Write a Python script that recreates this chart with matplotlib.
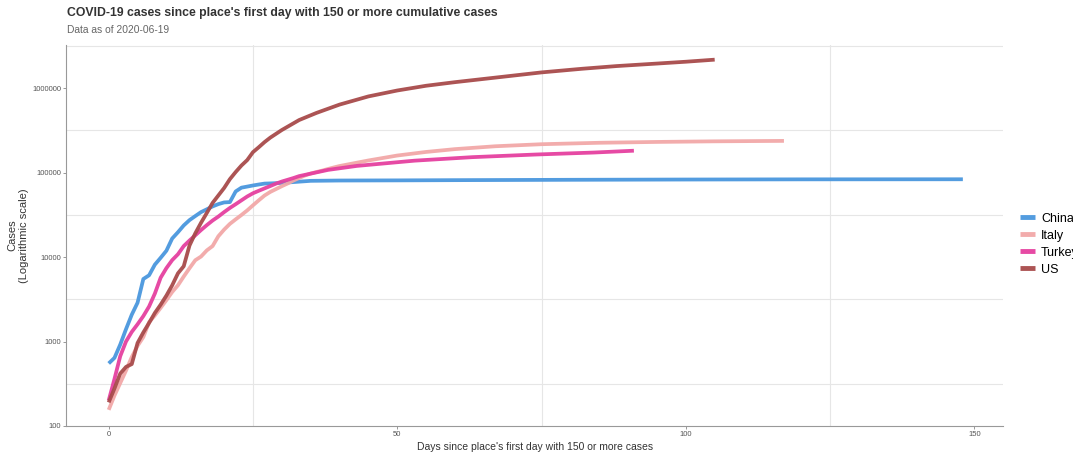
import matplotlib
matplotlib.use("Agg")
import matplotlib.pyplot as plt
import matplotlib.ticker as mticker

plt.rcParams['font.family'] = ['Liberation Sans', 'DejaVu Sans']

# values (days since first day with 150+ cases, cumulative cases)
china_days = list(range(0, 29)) + [30, 35, 40, 50, 60, 80, 100, 120, 148]
china_cases = [550, 640, 920, 1400, 2080, 2880, 5500, 6090, 8140, 9800,
               11900, 16600, 19700, 23700, 27400, 30600, 34100, 36800, 39800, 42400,
               44400, 44800, 59900, 66400, 68400, 70500, 72400, 74200, 74600,
               75600, 80000, 80700, 81000, 81500, 82300, 82900, 83300, 83500]

italy_days = list(range(0, 41)) + [45, 50, 55, 60, 67, 75, 85, 95, 105, 117]
italy_cases = [155, 229, 322, 453, 655, 888, 1128, 1694, 2036, 2502,
               3089, 3858, 4636, 5883, 7375, 9172, 10149, 12000, 13500, 17660,
               21157, 24747, 27980, 31506, 35713, 41035, 47021, 53578, 59138, 63927,
               69176, 74386, 80589, 86498, 92472, 97689, 101739, 105792, 110574, 115242,
               119827, 139422, 159516, 175925, 189973, 205463, 217185, 225886, 231139,
               234998, 237800]

turkey_days = list(range(0, 34)) + [38, 43, 53, 63, 74, 84, 91]
turkey_cases = [200, 360, 670, 1000, 1300, 1600, 2000, 2600, 3700, 5700,
                7400, 9200, 10800, 13500, 15700, 18100, 20900, 23900, 27100, 30200,
                34100, 38200, 42300, 47000, 52200, 57000, 61000, 65100, 69400, 74200,
                78500, 82300, 86300, 91000, 107800, 120200, 138700, 152600, 164000,
                173000, 182000]

us_days = list(range(0, 29)) + [30, 33, 36, 40, 45, 50, 55, 60, 68, 75, 82, 88, 95, 100, 105]
us_cases = [190, 278, 417, 500, 540, 960, 1280, 1660, 2180, 2730,
            3500, 4630, 6420, 7790, 13700, 19100, 25500, 33300, 43800, 53700,
            65800, 83800, 101700, 121500, 140900, 175000, 200000, 230000, 260000,
            320000, 420000, 510000, 640000, 800000, 940000, 1070000, 1180000,
            1360000, 1540000, 1700000, 1830000, 1960000, 2060000, 2180000]

countries = ['China', 'Italy', 'Turkey', 'US']
colors = ['#4a97de', '#f2a8a8', '#e5409f', '#a84b4b']
series = [(china_days, china_cases), (italy_days, italy_cases),
          (turkey_days, turkey_cases), (us_days, us_cases)]

fig = plt.figure(figsize=(10.73, 4.57), dpi=100)
ax = fig.add_axes([0.0615, 0.068, 0.8735, 0.8335])

for name, col, (d, c) in zip(countries, colors, series):
    ax.plot(d, c, color=col, lw=2.7, label=name, alpha=0.95,
            solid_capstyle='butt', solid_joinstyle='round')

ax.set_yscale('log')
ax.set_ylim(100, 3.25e6)
ax.set_xlim(-7.4, 155)

ax.set_xticks([0, 50, 100, 150])
ax.set_xticks([25, 75, 125], minor=True)
ax.set_yticks([100, 1000, 10000, 100000, 1000000])
ax.yaxis.set_major_formatter(mticker.FuncFormatter(lambda v, p: f'{int(round(v))}'))
ax.yaxis.set_minor_locator(mticker.FixedLocator([10 ** (k + 0.5) for k in range(2, 7)]))
ax.yaxis.set_minor_formatter(mticker.NullFormatter())

ax.grid(False, which='major')
ax.grid(True, which='minor', color='#e6e6e6', lw=0.8)
ax.tick_params(which='minor', length=0)
ax.tick_params(which='major', length=2.5, width=0.6, color='#888888',
               labelsize=5.5, labelcolor='#555555', pad=1)
for s in ['top', 'right']:
    ax.spines[s].set_visible(False)
for s in ['left', 'bottom']:
    ax.spines[s].set_color('#999999')
    ax.spines[s].set_linewidth(0.8)

ax.set_xlabel("Days since place's first day with 150 or more cases", fontsize=7.5,
              color='#333333', labelpad=3, family=['Liberation Sans Narrow', 'Liberation Sans'])
ax.set_ylabel('Cases\n(Logarithmic scale)', fontsize=8, color='#333333')
ax.yaxis.set_label_coords(-0.039, 0.5)

fig.text(0.0625, 0.972, "COVID-19 cases since place's first day with 150 or more cumulative cases",
         fontsize=8.8, fontweight='bold', color='#333333', va='center')
fig.text(0.0625, 0.935, 'Data as of 2020-06-19', fontsize=7.4, color='#666666', va='center')

leg = ax.legend(loc='center left', bbox_to_anchor=(1.013, 0.477), frameon=False,
                fontsize=9, handlelength=1.2, handletextpad=0.45, labelspacing=0.4,
                borderaxespad=0)
for line in leg.get_lines():
    line.set_linewidth(3.5)

fig.savefig('out.png', dpi=100)
